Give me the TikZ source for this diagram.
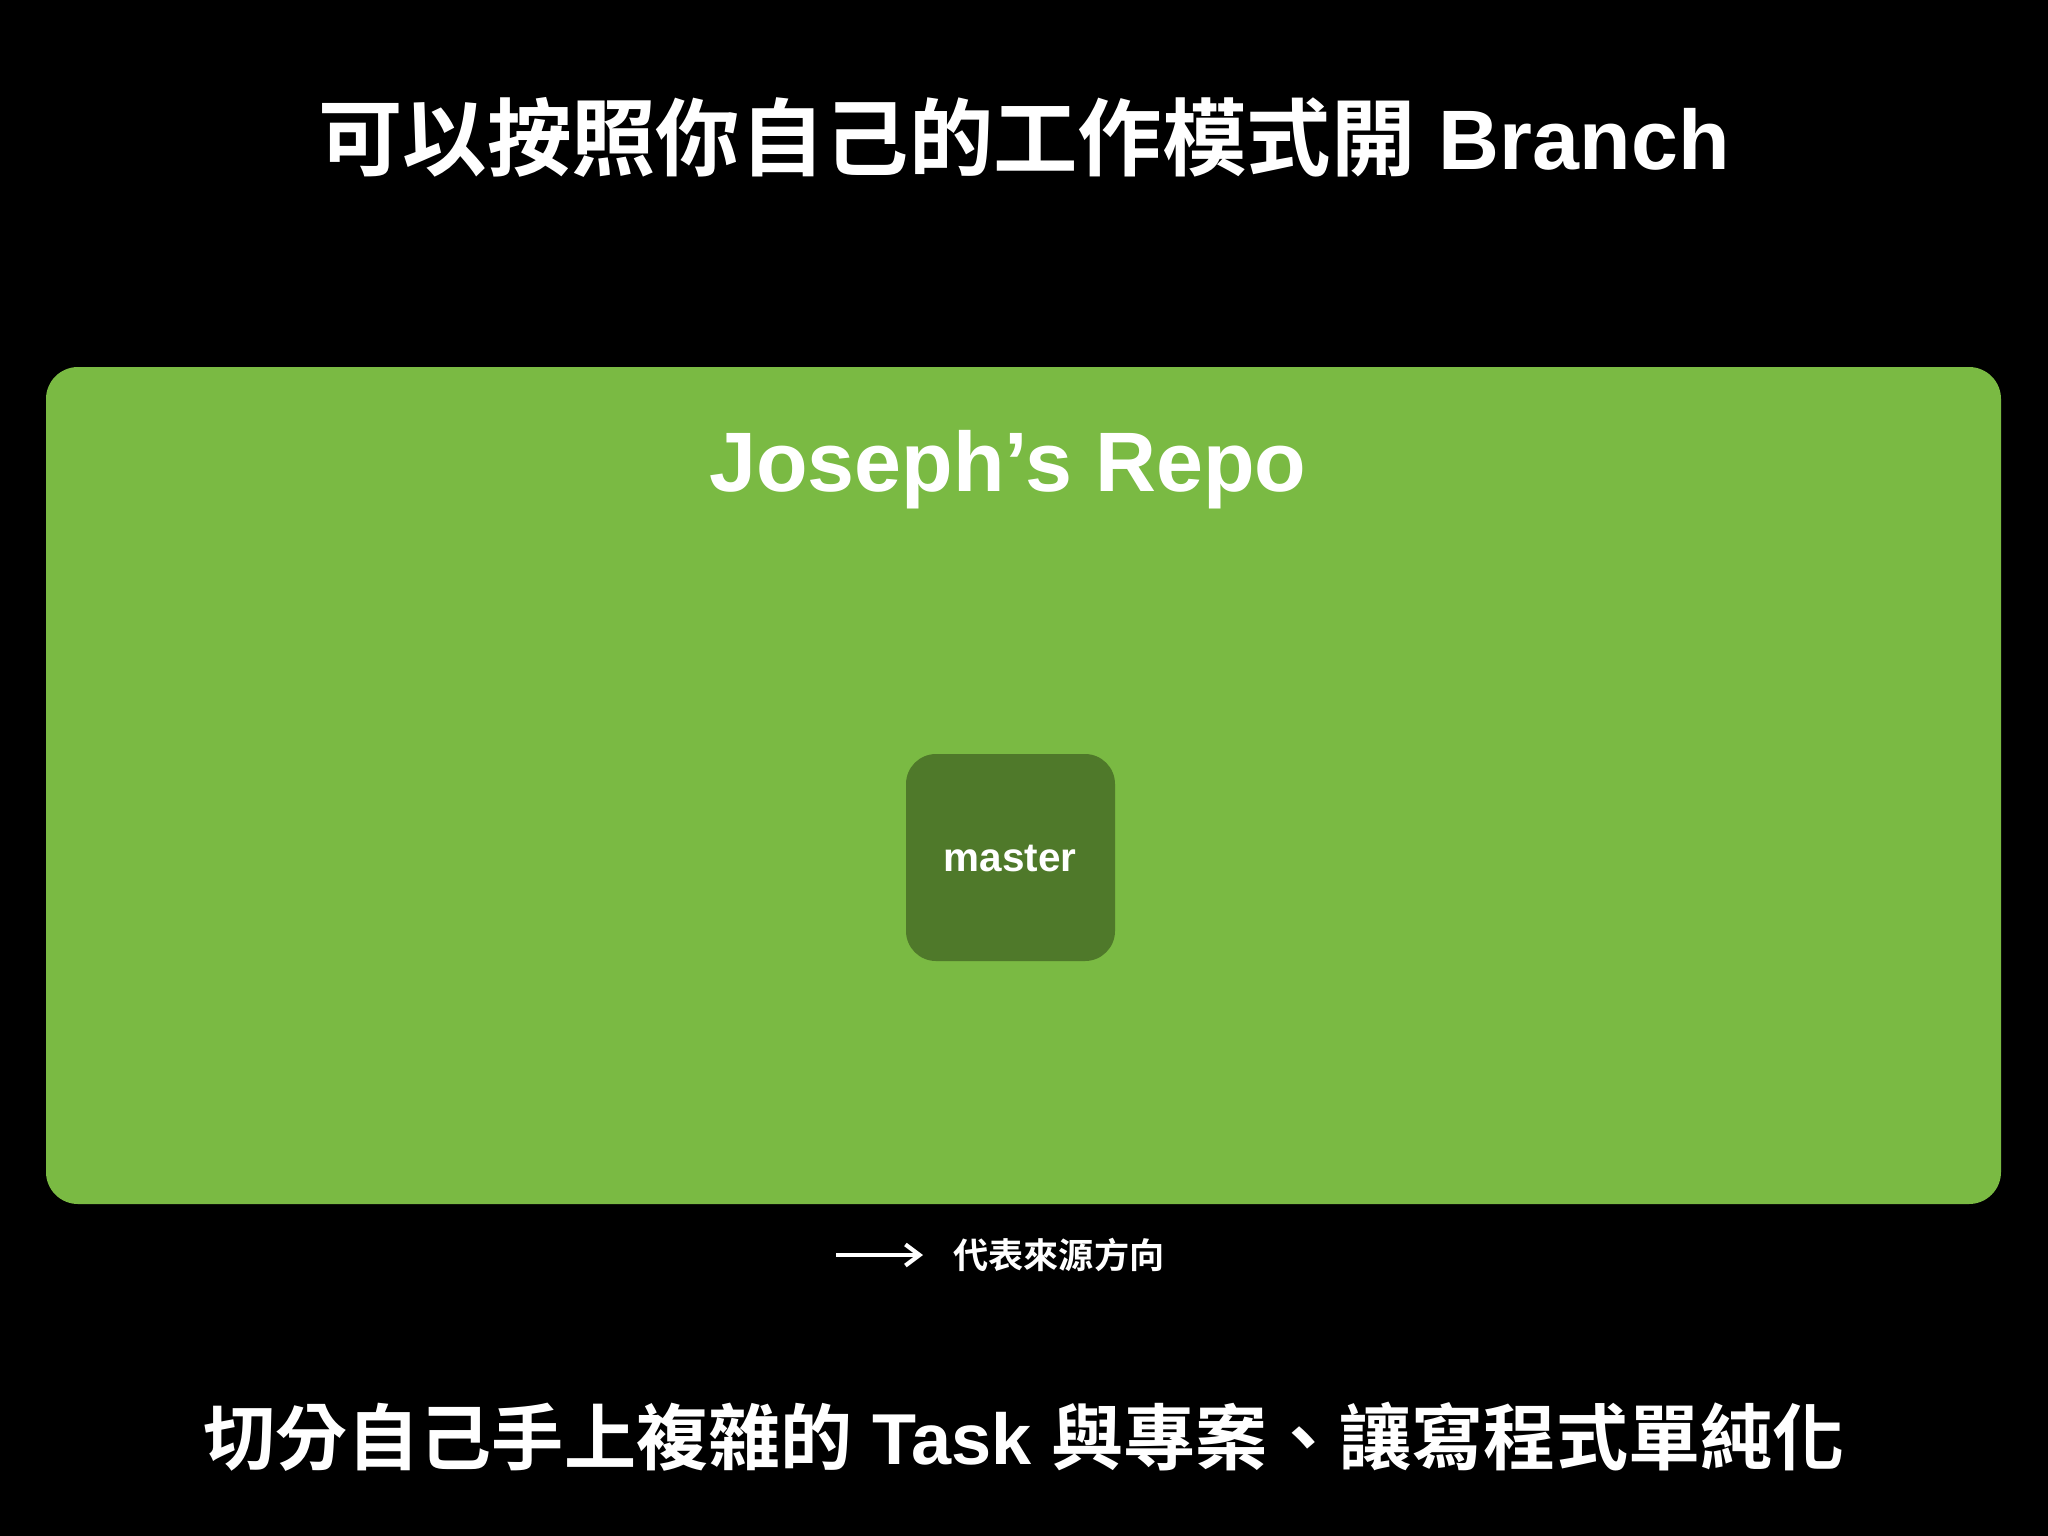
\documentclass[tikz,border=0pt]{standalone}
\usepackage{fontspec}
\usetikzlibrary{arrows.meta}
\setmainfont{Liberation Sans}
\newfontfamily\cjk{Noto Sans CJK TC}[BoldFont={* Bold}]
\definecolor{repogreen}{HTML}{7ABA43}
\definecolor{branchgreen}{HTML}{4F792A}
\tikzstyle{caption}=[%
	text = white,
	font = \bfseries
]
\tikzstyle{branchbox}=[%
	draw = none,
	fill = branchgreen,
	rounded corners = 0.3cm
]

\begin{document}
\begin{tikzpicture}[x=0.01cm, y=-0.01cm]
	\def\width{2048}
	\def\height{1536}

	% Background, frame
	\draw[draw=none, fill=black] (0,0) rectangle (\width,\height);
	\draw[draw=none, fill=repogreen, rounded corners=0.32cm] (46,367) rectangle (2001,1204);

	% Texts
	\node[caption, font=\bfseries\fontsize{24}{28}\selectfont] (title) at (1024,137) {{\cjk 可以按照你自己的工作模式開} Branch};
	\node[caption, font=\bfseries\fontsize{24}{28}\selectfont] (repo) at (1008,470) {Joseph’s Repo};
	\node[caption, font=\bfseries\fontsize{20.5}{25}\selectfont] (summary) at (1024,1437) {{\cjk 切分自己手上複雜的} Task {\cjk 與專案、讓寫程式單純化}};

	% Branch
	\draw[branchbox] (906,754) rectangle (1115,961);
	\node[caption, font=\bfseries\fontsize{11.5}{14}\selectfont] (master) at (1010,858) {master};

	% Legend
	\node[caption, font=\cjk\bfseries\fontsize{10}{12}\selectfont, anchor=west] (legend) at (941,1255) {代表來源方向};
	\coordinate (from) at (836,1255);
	\draw[white, line width=1.2pt, shorten >=0.18cm, -{Straight Barb[length=4pt, width=6pt]}] (from) -- (legend.west);
\end{tikzpicture}
\end{document}
